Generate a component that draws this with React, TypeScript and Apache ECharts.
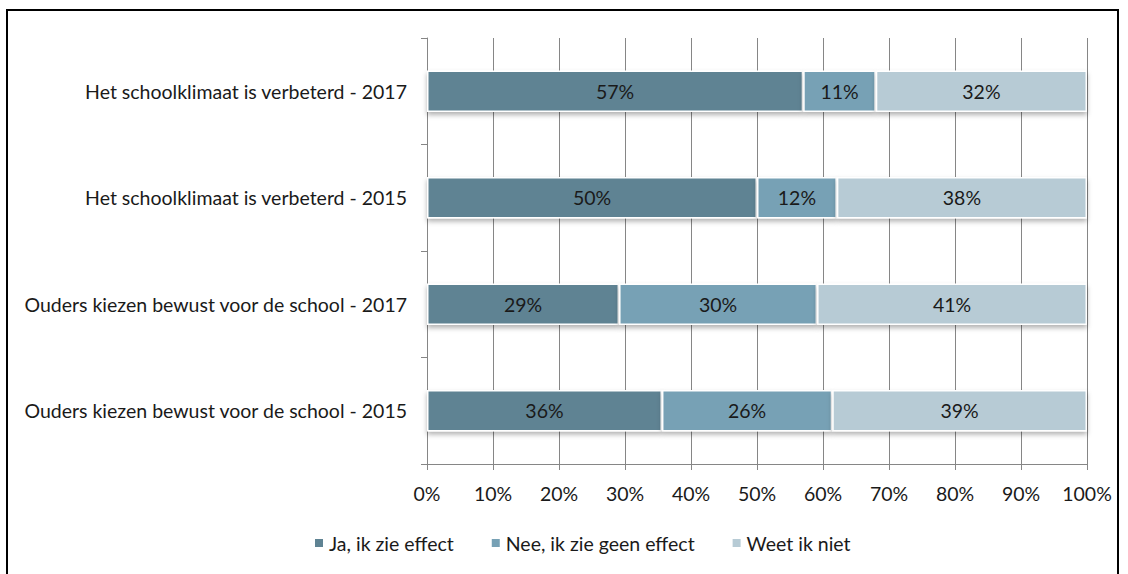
import React, { useEffect, useRef } from "react";
import * as echarts from "echarts";

const categories = [
  "Ouders kiezen bewust voor de school - 2015",
  "Ouders kiezen bewust voor de school - 2017",
  "Het schoolklimaat is verbeterd - 2015",
  "Het schoolklimaat is verbeterd - 2017",
];
const seriesNames = ["Ja, ik zie effect", "Nee, ik zie geen effect", "Weet ik niet"];
const jaValues = [35.6, 29.1, 50.0, 57.0];
const neeValues = [25.8, 30.0, 12.1, 11.0];
const weetValues = [38.6, 40.9, 37.9, 32.0];
const xTicks = [0, 10, 20, 30, 40, 50, 60, 70, 80, 90, 100];
const colors = ["#5F8393", "#77A1B5", "#B7CBD5"];

const FONT = "Lato";
const FS = 19.5;

export default function App() {
  const ref = useRef<HTMLDivElement>(null);
  useEffect(() => {
    if (!ref.current) return;
    const chart = echarts.init(ref.current, null, { renderer: "svg" });
    const mk = (name: string, data: number[], color: string) => ({
      name,
      type: "bar",
      stack: "total",
      barWidth: "39%",
      data,
      itemStyle: {
        color,
        borderColor: "#ffffff",
        borderWidth: 1.5,
        shadowColor: "rgba(0,0,0,0.3)",
        shadowBlur: 5,
        shadowOffsetY: 3,
      },
      label: {
        show: true,
        position: "inside",
        color: "#1a1a1a",
        fontFamily: FONT,
        fontSize: FS,
        formatter: (p: any) => Math.round(p.value) + "%",
      },
    });
    chart.setOption({
      animation: false,
      backgroundColor: "#ffffff",
      graphic: [
        {
          type: "rect",
          shape: { x: 7, y: 10, width: 1111, height: 580 },
          style: { fill: "none", stroke: "#000000", lineWidth: 2 },
          silent: true,
        },
      ],
      grid: { left: 427, right: 41, top: 38, bottom: 110 },
      legend: {
        bottom: 16,
        left: 308,
        itemWidth: 10,
        itemHeight: 10,
        itemGap: 36,
        icon: "rect",
        textStyle: { fontFamily: FONT, fontSize: FS, color: "#1a1a1a" },
        data: seriesNames,
      },
      xAxis: {
        type: "value",
        min: 0,
        max: 100,
        interval: 10,
        axisLine: { show: true, lineStyle: { color: "#868686", width: 1 } },
        axisTick: { show: true, length: 6, lineStyle: { color: "#868686" } },
        splitLine: { show: true, lineStyle: { color: "#868686", width: 1 } },
        axisLabel: {
          margin: 19,
          fontFamily: FONT,
          fontSize: FS,
          color: "#1a1a1a",
          formatter: (v: number) => (xTicks.includes(v) ? v + "%" : ""),
        },
      },
      yAxis: {
        type: "category",
        data: categories,
        axisLine: { show: true, lineStyle: { color: "#868686", width: 1 } },
        axisTick: { show: true, length: 6, lineStyle: { color: "#868686" } },
        axisLabel: {
          margin: 20,
          fontFamily: FONT,
          fontSize: FS,
          color: "#1a1a1a",
        },
      },
      series: [
        mk(seriesNames[0], jaValues, colors[0]),
        mk(seriesNames[1], neeValues, colors[1]),
        mk(seriesNames[2], weetValues, colors[2]),
      ],
    });
    return () => chart.dispose();
  }, []);
  return (
    <div
      ref={ref}
      style={{ position: "fixed", left: 0, top: 0, width: 1128, height: 574 }}
    />
  );
}
